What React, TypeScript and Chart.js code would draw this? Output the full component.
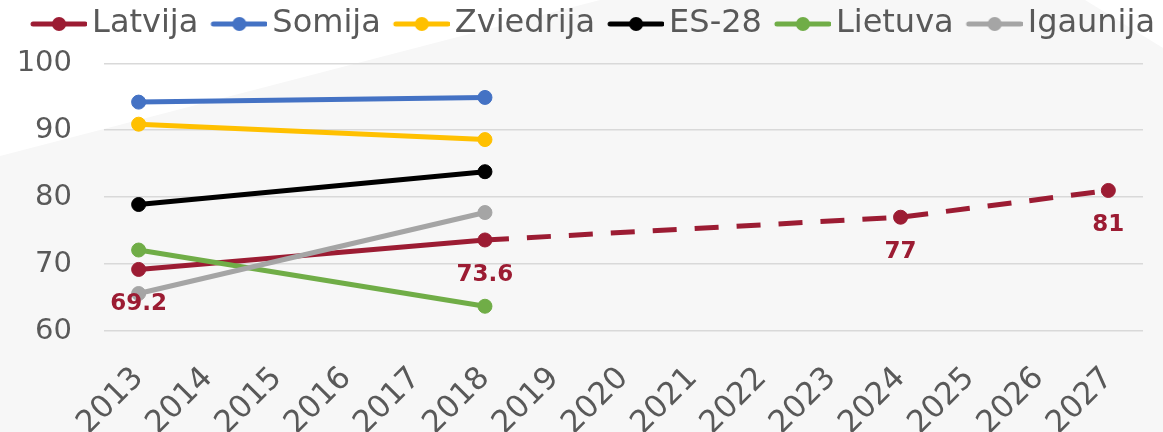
import React, { useEffect, useRef } from 'react';
import { Chart, registerables } from 'chart.js';

Chart.register(...registerables);

const years = ['2013', '2014', '2015', '2016', '2017', '2018', '2019', '2020', '2021', '2022', '2023', '2024', '2025', '2026', '2027'];

const latvija = [69.2, null, null, null, null, 73.6, null, null, null, null, null, 77, null, null, 81];
const somija = [94.2, null, null, null, null, 94.9];
const zviedrija = [90.9, null, null, null, null, 88.6];
const es28 = [78.9, null, null, null, null, 83.8];
const lietuva = [72.1, null, null, null, null, 63.7];
const igaunija = [65.6, null, null, null, null, 77.7];

const latvijaLabels = ['69.2', null, null, null, null, '73.6', null, null, null, null, null, '77', null, null, '81'];

const seriesNames = ['Latvija', 'Somija', 'Zviedrija', 'ES-28', 'Lietuva', 'Igaunija'];
const seriesColors = ['#9C1C33', '#4472C4', '#FFC000', '#000000', '#70AD47', '#A5A5A5'];

const FONT = '"DejaVu Sans", Verdana, sans-serif';
const TEXT = '#595959';

// legend marker: transparent left part, line + dot drawn in the right part
function makeMarker(color: string): HTMLCanvasElement {
  const c = document.createElement('canvas');
  c.width = 72;
  c.height = 18;
  const g = c.getContext('2d')!;
  g.strokeStyle = color;
  g.lineWidth = 5;
  g.lineCap = 'round';
  g.beginPath();
  g.moveTo(18, 9);
  g.lineTo(70, 9);
  g.stroke();
  g.fillStyle = color;
  g.beginPath();
  g.arc(44, 9, 7, 0, Math.PI * 2);
  g.fill();
  return c;
}

const bgPlugin = {
  id: 'bg',
  beforeDraw(chart: any) {
    const { ctx, width } = chart;
    ctx.save();
    ctx.fillStyle = '#F7F7F7';
    ctx.fillRect(0, 0, width, chart.height);
    ctx.fillStyle = '#FFFFFF';
    ctx.beginPath();
    ctx.moveTo(0, 0);
    ctx.lineTo(600, 0);
    ctx.lineTo(0, 156);
    ctx.closePath();
    ctx.fill();
    ctx.beginPath();
    ctx.moveTo(1085, 0);
    ctx.lineTo(width, 0);
    ctx.lineTo(width, 48);
    ctx.closePath();
    ctx.fill();
    ctx.restore();
  },
};

const labelPlugin = {
  id: 'dataLabels',
  afterDatasetsDraw(chart: any) {
    const meta = chart.getDatasetMeta(0);
    const ctx = chart.ctx;
    ctx.save();
    ctx.font = 'bold 23px ' + FONT;
    ctx.fillStyle = seriesColors[0];
    ctx.textAlign = 'center';
    ctx.textBaseline = 'middle';
    latvijaLabels.forEach((t, i) => {
      if (!t) return;
      const el = meta.data[i];
      if (!el) return;
      ctx.fillText(t, el.x, el.y + 35);
    });
    ctx.restore();
  },
};

export default function App() {
  const ref = useRef<HTMLCanvasElement>(null);

  useEffect(() => {
    if (!ref.current) return;
    const allData = [latvija, somija, zviedrija, es28, lietuva, igaunija];
    const markers = seriesColors.map((c) => makeMarker(c));
    const datasets = allData.map((d, i) => ({
      label: seriesNames[i],
      data: d,
      xAxisID: 'x',
      yAxisID: 'y',
      borderColor: seriesColors[i],
      backgroundColor: seriesColors[i],
      pointBackgroundColor: seriesColors[i],
      pointBorderColor: seriesColors[i],
      borderWidth: 5,
      pointRadius: 7,
      pointBorderWidth: 1,
      pointHoverRadius: 7,
      spanGaps: true,
      tension: 0,
      order: 6 - i,
      segment: i === 0 ? { borderDash: (c: any) => (c.p0DataIndex >= 5 ? [24, 18] : undefined) } : undefined,
    }));

    const chart = new Chart(ref.current, {
      type: 'line',
      data: { labels: years, datasets },
      plugins: [bgPlugin, labelPlugin],
      options: {
        animation: false,
        responsive: false,
        layout: { padding: 0 },
        plugins: {
          tooltip: { enabled: false },
          legend: {
            display: true,
            position: 'top',
            align: 'end',
            labels: {
              usePointStyle: true,
              pointStyleWidth: 50,
              padding: 8,
              color: TEXT,
              font: { family: FONT, size: 32 },
              generateLabels: (ch: any) =>
                ch.data.datasets.map((ds: any, i: number) => ({
                  text: ds.label,
                  fillStyle: seriesColors[i],
                  strokeStyle: seriesColors[i],
                  lineWidth: 0,
                  pointStyle: markers[i],
                  hidden: false,
                  datasetIndex: i,
                  fontColor: TEXT,
                })),
            },
          },
        },
        scales: {
          x: {
            type: 'category',
            offset: true,
            grid: { display: false, drawTicks: false },
            border: { display: false },
            ticks: {
              color: TEXT,
              font: { family: FONT, size: 31, lineHeight: 0.4 },
              maxRotation: 45,
              minRotation: 45,
              autoSkip: false,
              padding: 38,
            },
            afterFit: (s: any) => {
              s.height = 101;
            },
          },
          xTop: {
            type: 'category',
            position: 'top',
            display: true,
            weight: 0,
            ticks: { display: false },
            grid: { display: false, drawTicks: false },
            border: { display: false },
            afterFit: (s: any) => {
              s.height = 13.3;
            },
          },
          y: {
            min: 60,
            max: 100,
            ticks: {
              stepSize: 10,
              color: TEXT,
              font: { family: FONT, size: 29 },
              padding: 32,
            },
            grid: { color: '#D9D9D9', lineWidth: 1.5, drawTicks: false },
            border: { display: false },
            afterFit: (s: any) => {
              s.width = 104;
            },
          },
          yRight: {
            position: 'right',
            display: true,
            ticks: { display: false },
            grid: { display: false, drawTicks: false },
            border: { display: false },
            afterFit: (s: any) => {
              s.width = 20;
            },
          },
        },
      },
    } as any);
    return () => chart.destroy();
  }, []);

  return (
    <div style={{ position: 'fixed', left: 0, top: 0, width: 1163, height: 432 }}>
      <canvas ref={ref} width={1163} height={432} style={{ width: 1163, height: 432 }} />
    </div>
  );
}
